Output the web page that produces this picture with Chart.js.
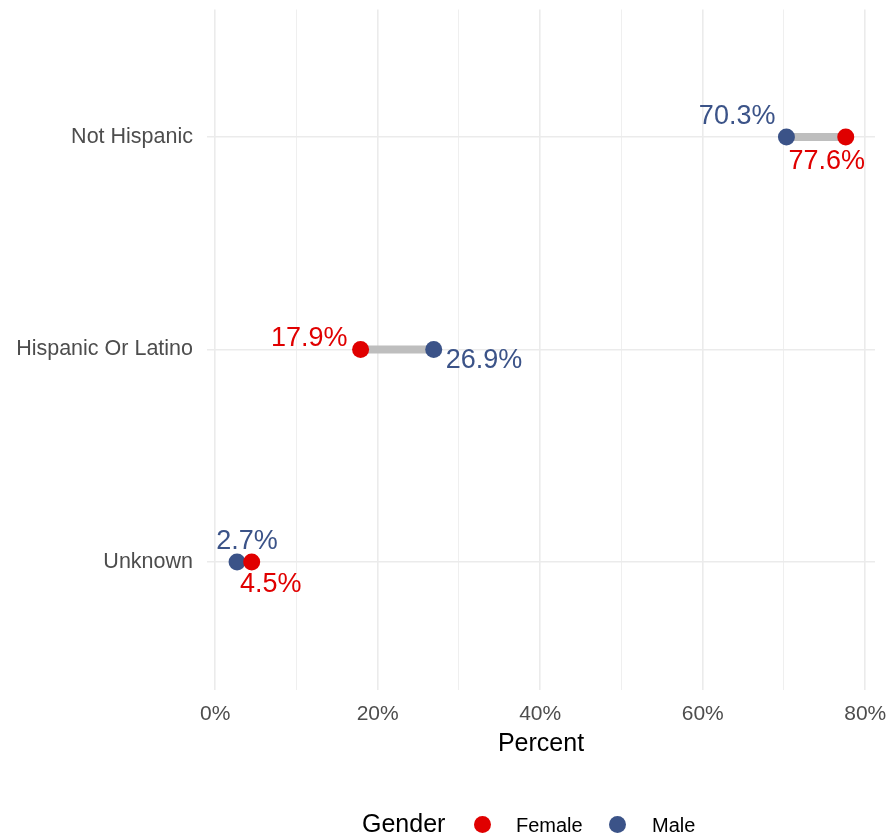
<!DOCTYPE html>
<html>
<head>
<meta charset="utf-8">
<title>Ethnicity by gender</title>
<script src="https://cdn.jsdelivr.net/npm/chart.js@4/dist/chart.umd.min.js"></script>
<style>
    html, body { margin: 0; padding: 0; background: #fff; }
    #wrap { position: relative; width: 888px; height: 837px; }
    #legend {
        position: absolute; left: 0; top: 809px; width: 888px; height: 28px;
        font-family: "Liberation Sans", Arial, sans-serif; color: #000;
    }
    #legend span { position: absolute; white-space: nowrap; }
    #legend .title { left: 362px; top: 0; font-size: 25px; }
    #legend .lab { top: 5px; font-size: 20px; }
    #legend .dot { width: 17px; height: 17px; border-radius: 50%; top: 7px; }
</style>
</head>
<body>
<div id="wrap">
    <canvas id="chart" width="888" height="837"></canvas>
    <div id="legend">
        <span class="title">Gender</span>
        <span class="dot" style="left:474px;background:#E00000"></span>
        <span class="lab" style="left:516px">Female</span>
        <span class="dot" style="left:609px;background:#3B5388"></span>
        <span class="lab" style="left:652px">Male</span>
    </div>
</div>
<script>
// Data
const categories = ['Not Hispanic', 'Hispanic Or Latino', 'Unknown'];
const femaleValues = [77.6, 17.9, 4.5];
const maleValues = [70.3, 26.9, 2.7];
const xTicks = [0, 10, 20, 30, 40, 50, 60, 70, 80];

const FEMALE = '#E00000';
const MALE = '#3B5388';
const FONT = '"Liberation Sans", Arial, sans-serif';

// label placement relative to its point: [dx, dy, align]
const femaleLabelPos = [[-19, 25, 'center'], [-13, -11, 'right'], [19, 23, 'center']];
const maleLabelPos = [[-11, -20, 'right'], [12, 11, 'left'], [10, -20, 'center']];

// category i sits at y = i + 1 (reversed axis, first on top)
const femalePoints = femaleValues.map((v, i) => ({ x: v, y: i + 1 }));
const malePoints = maleValues.map((v, i) => ({ x: v, y: i + 1 }));

const segments = categories.map((c, i) => ({
    label: c,
    type: 'line',
    data: [femalePoints[i], malePoints[i]],
    borderColor: '#BEBEBE',
    borderWidth: 8,
    pointRadius: 0,
    order: 2
}));

// drop the label overhang padding Chart.js adds at the axis ends
function noEdgePadding(scale) {
    scale.paddingLeft = 0;
    scale.paddingRight = 0;
    scale.paddingTop = 0;
    scale.paddingBottom = 0;
}

/**
 * Draws the percentage labels next to every point
 */
const valueLabels = {
    id: 'valueLabels',
    afterDatasetsDraw(chart) {
        const { ctx, scales: { x, y } } = chart;
        ctx.save();
        ctx.font = '27px ' + FONT;
        ctx.textBaseline = 'middle';
        const draw = (points, pos, color) => {
            points.forEach((p, i) => {
                const [dx, dy, align] = pos[i];
                ctx.fillStyle = color;
                ctx.textAlign = align;
                ctx.fillText(p.x.toFixed(1) + '%', x.getPixelForValue(p.x) + dx, y.getPixelForValue(p.y) + dy);
            });
        };
        draw(femalePoints, femaleLabelPos, FEMALE);
        draw(malePoints, maleLabelPos, MALE);
        ctx.restore();
    }
};

new Chart(document.getElementById('chart'), {
    type: 'scatter',
    data: {
        datasets: [
            { label: 'Female', data: femalePoints, backgroundColor: FEMALE, borderWidth: 0, pointRadius: 8.5, pointHoverRadius: 8.5, order: 0 },
            { label: 'Male', data: malePoints, backgroundColor: MALE, borderWidth: 0, pointRadius: 8.5, pointHoverRadius: 8.5, order: 1 },
            ...segments
        ]
    },
    options: {
        responsive: false,
        animation: false,
        layout: { padding: { left: 0, right: 13, top: 9.5, bottom: 77.5 } },
        plugins: {
            legend: { display: false },
            tooltip: { enabled: false }
        },
        scales: {
            x: {
                type: 'linear',
                min: -1,
                max: 81.2,
                afterBuildTicks: scale => { scale.ticks = xTicks.map(v => ({ value: v })); },
                afterFit: scale => { scale.height = 70; noEdgePadding(scale); },
                border: { display: false },
                grid: {
                    color: '#EBEBEB',
                    lineWidth: ctx => (ctx.tick && ctx.tick.value % 20 === 0 ? 1.6 : 0.8),
                    drawTicks: false
                },
                ticks: {
                    autoSkip: false,
                    maxRotation: 0,
                    padding: 12,
                    color: '#4D4D4D',
                    font: { family: FONT, size: 21 },
                    callback: v => (v % 20 === 0 ? v + '%' : '')
                },
                title: {
                    display: true,
                    text: 'Percent',
                    color: '#000',
                    padding: { top: 10, bottom: 0 },
                    font: { family: FONT, size: 25 }
                }
            },
            y: {
                type: 'linear',
                reverse: true,
                min: 0.4,
                max: 3.6,
                afterBuildTicks: scale => { scale.ticks = categories.map((c, i) => ({ value: i + 1 })); },
                afterFit: scale => { scale.width = 207; noEdgePadding(scale); },
                border: { display: false },
                grid: { color: '#EBEBEB', lineWidth: 1.6, drawTicks: false },
                ticks: {
                    autoSkip: false,
                    padding: 14,
                    color: '#4D4D4D',
                    font: { family: FONT, size: 21.5 },
                    callback: v => categories[v - 1] || ''
                }
            }
        }
    },
    plugins: [valueLabels]
});
</script>
</body>
</html>
